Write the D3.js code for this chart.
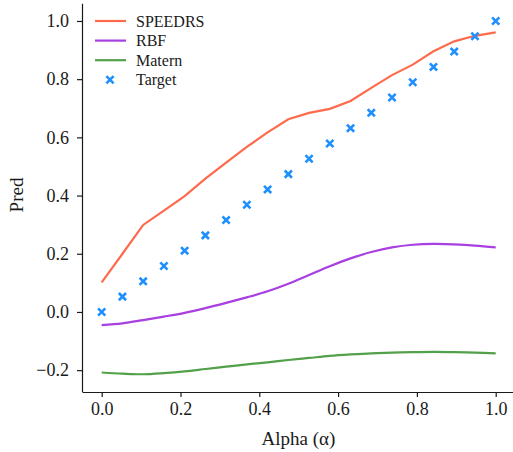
<!DOCTYPE html>
<html><head><meta charset="utf-8">
<script src="https://cdn.jsdelivr.net/npm/d3@7"></script>
<style>body{margin:0;background:#fff}svg{display:block}
.t{font-family:"Liberation Serif"}
</style>
</head><body><svg id="c" width="513" height="452"></svg>
<script>
const alphas = d3.range(20).map(i => i / 19);
const speedrs = [0.102,0.200,0.299,0.348,0.398,0.458,0.513,0.567,0.617,0.662,0.684,0.698,0.725,0.770,0.814,0.850,0.896,0.930,0.949,0.961];
const rbf = [-0.045,-0.039,-0.028,-0.016,-0.003,0.013,0.031,0.050,0.071,0.097,0.127,0.157,0.184,0.206,0.222,0.231,0.234,0.232,0.228,0.222];
const matern = [-0.208,-0.212,-0.214,-0.210,-0.204,-0.196,-0.188,-0.180,-0.173,-0.165,-0.158,-0.151,-0.146,-0.142,-0.140,-0.138,-0.137,-0.138,-0.140,-0.142];
const target = alphas.slice();
const xTicks = [0.0,0.2,0.4,0.6,0.8,1.0];
const yTicks = [-0.2,0.0,0.2,0.4,0.6,0.8,1.0];
const seriesNames = ["SPEEDRS","RBF","Matern","Target"];
const colors = {SPEEDRS:"#fe6a4c", RBF:"#a83fe0", Matern:"#52a04a", Target:"#1f8ffe"};

const svg = d3.select("#c");
const x = d3.scaleLinear().domain([-0.05,1.05]).range([82,515.4]);
const y = d3.scaleLinear().domain([-0.2737,1.0607]).range([391.6,3.3]);

const fmt = v => (v < 0 ? "\u2212" : "") + Math.abs(v).toFixed(1);

const gx = svg.append("g").attr("transform","translate(0,392)")
  .call(d3.axisBottom(x).tickValues(xTicks).tickFormat(fmt).tickSize(5).tickPadding(5).tickSizeOuter(0));
const gy = svg.append("g").attr("transform","translate(82,0)")
  .call(d3.axisLeft(y).tickValues(yTicks).tickFormat(fmt).tickSize(5).tickPadding(8).tickSizeOuter(0));
[gx,gy].forEach(g=>{
  g.attr("font-family",null).attr("font-size",null);
  g.selectAll("path.domain").attr("stroke","#1a1a1a").attr("stroke-width",1.2);
  g.selectAll(".tick line").attr("stroke","#1a1a1a").attr("stroke-width",1.2);
  g.selectAll("text").attr("class","t").style("font-size","18px").attr("fill","#1a1a1a");
});

const line = d3.line().x((d,i)=>x(alphas[i])).y(d=>y(d));
const smooth = d3.line().x((d,i)=>x(alphas[i])).y(d=>y(d)).curve(d3.curveCatmullRom);
svg.append("path").datum(rbf).attr("d",smooth).attr("fill","none").attr("stroke",colors.RBF).attr("stroke-width",2.2);
svg.append("path").datum(matern).attr("d",smooth).attr("fill","none").attr("stroke",colors.Matern).attr("stroke-width",2.2);
svg.append("path").datum(speedrs).attr("d",line).attr("fill","none").attr("stroke",colors.SPEEDRS).attr("stroke-width",2.2);

const cross = (g, cx, cy, s) => {
  g.append("path").attr("d",`M${cx-s},${cy-s}L${cx+s},${cy+s}M${cx-s},${cy+s}L${cx+s},${cy-s}`)
   .attr("stroke",colors.Target).attr("stroke-width",2.6).attr("fill","none");
};
const tg = svg.append("g");
target.forEach((v,i)=>cross(tg, x(alphas[i]), y(v), 3.6));

// legend
const lg = svg.append("g");
seriesNames.forEach((n,i)=>{
  const yy = 21 + i*19.6;
  if (n === "Target") cross(lg, 110, yy, 3.6);
  else lg.append("line").attr("x1",95).attr("x2",126).attr("y1",yy).attr("y2",yy).attr("stroke",colors[n]).attr("stroke-width",2.2);
  lg.append("text").attr("class","t").attr("x",136).attr("y",yy).attr("dy","0.35em").style("font-size","16px").attr("fill","#1a1a1a").text(n);
});

svg.append("text").attr("class","t").attr("x",298.5).attr("y",445).attr("text-anchor","middle").style("font-size","19px").attr("fill","#1a1a1a").text("Alpha (\u03B1)");
svg.append("text").attr("class","t").attr("transform","translate(16,195) rotate(-90)").attr("text-anchor","middle").attr("dominant-baseline","central").style("font-size","19px").attr("fill","#1a1a1a").text("Pred");
</script></body></html>
